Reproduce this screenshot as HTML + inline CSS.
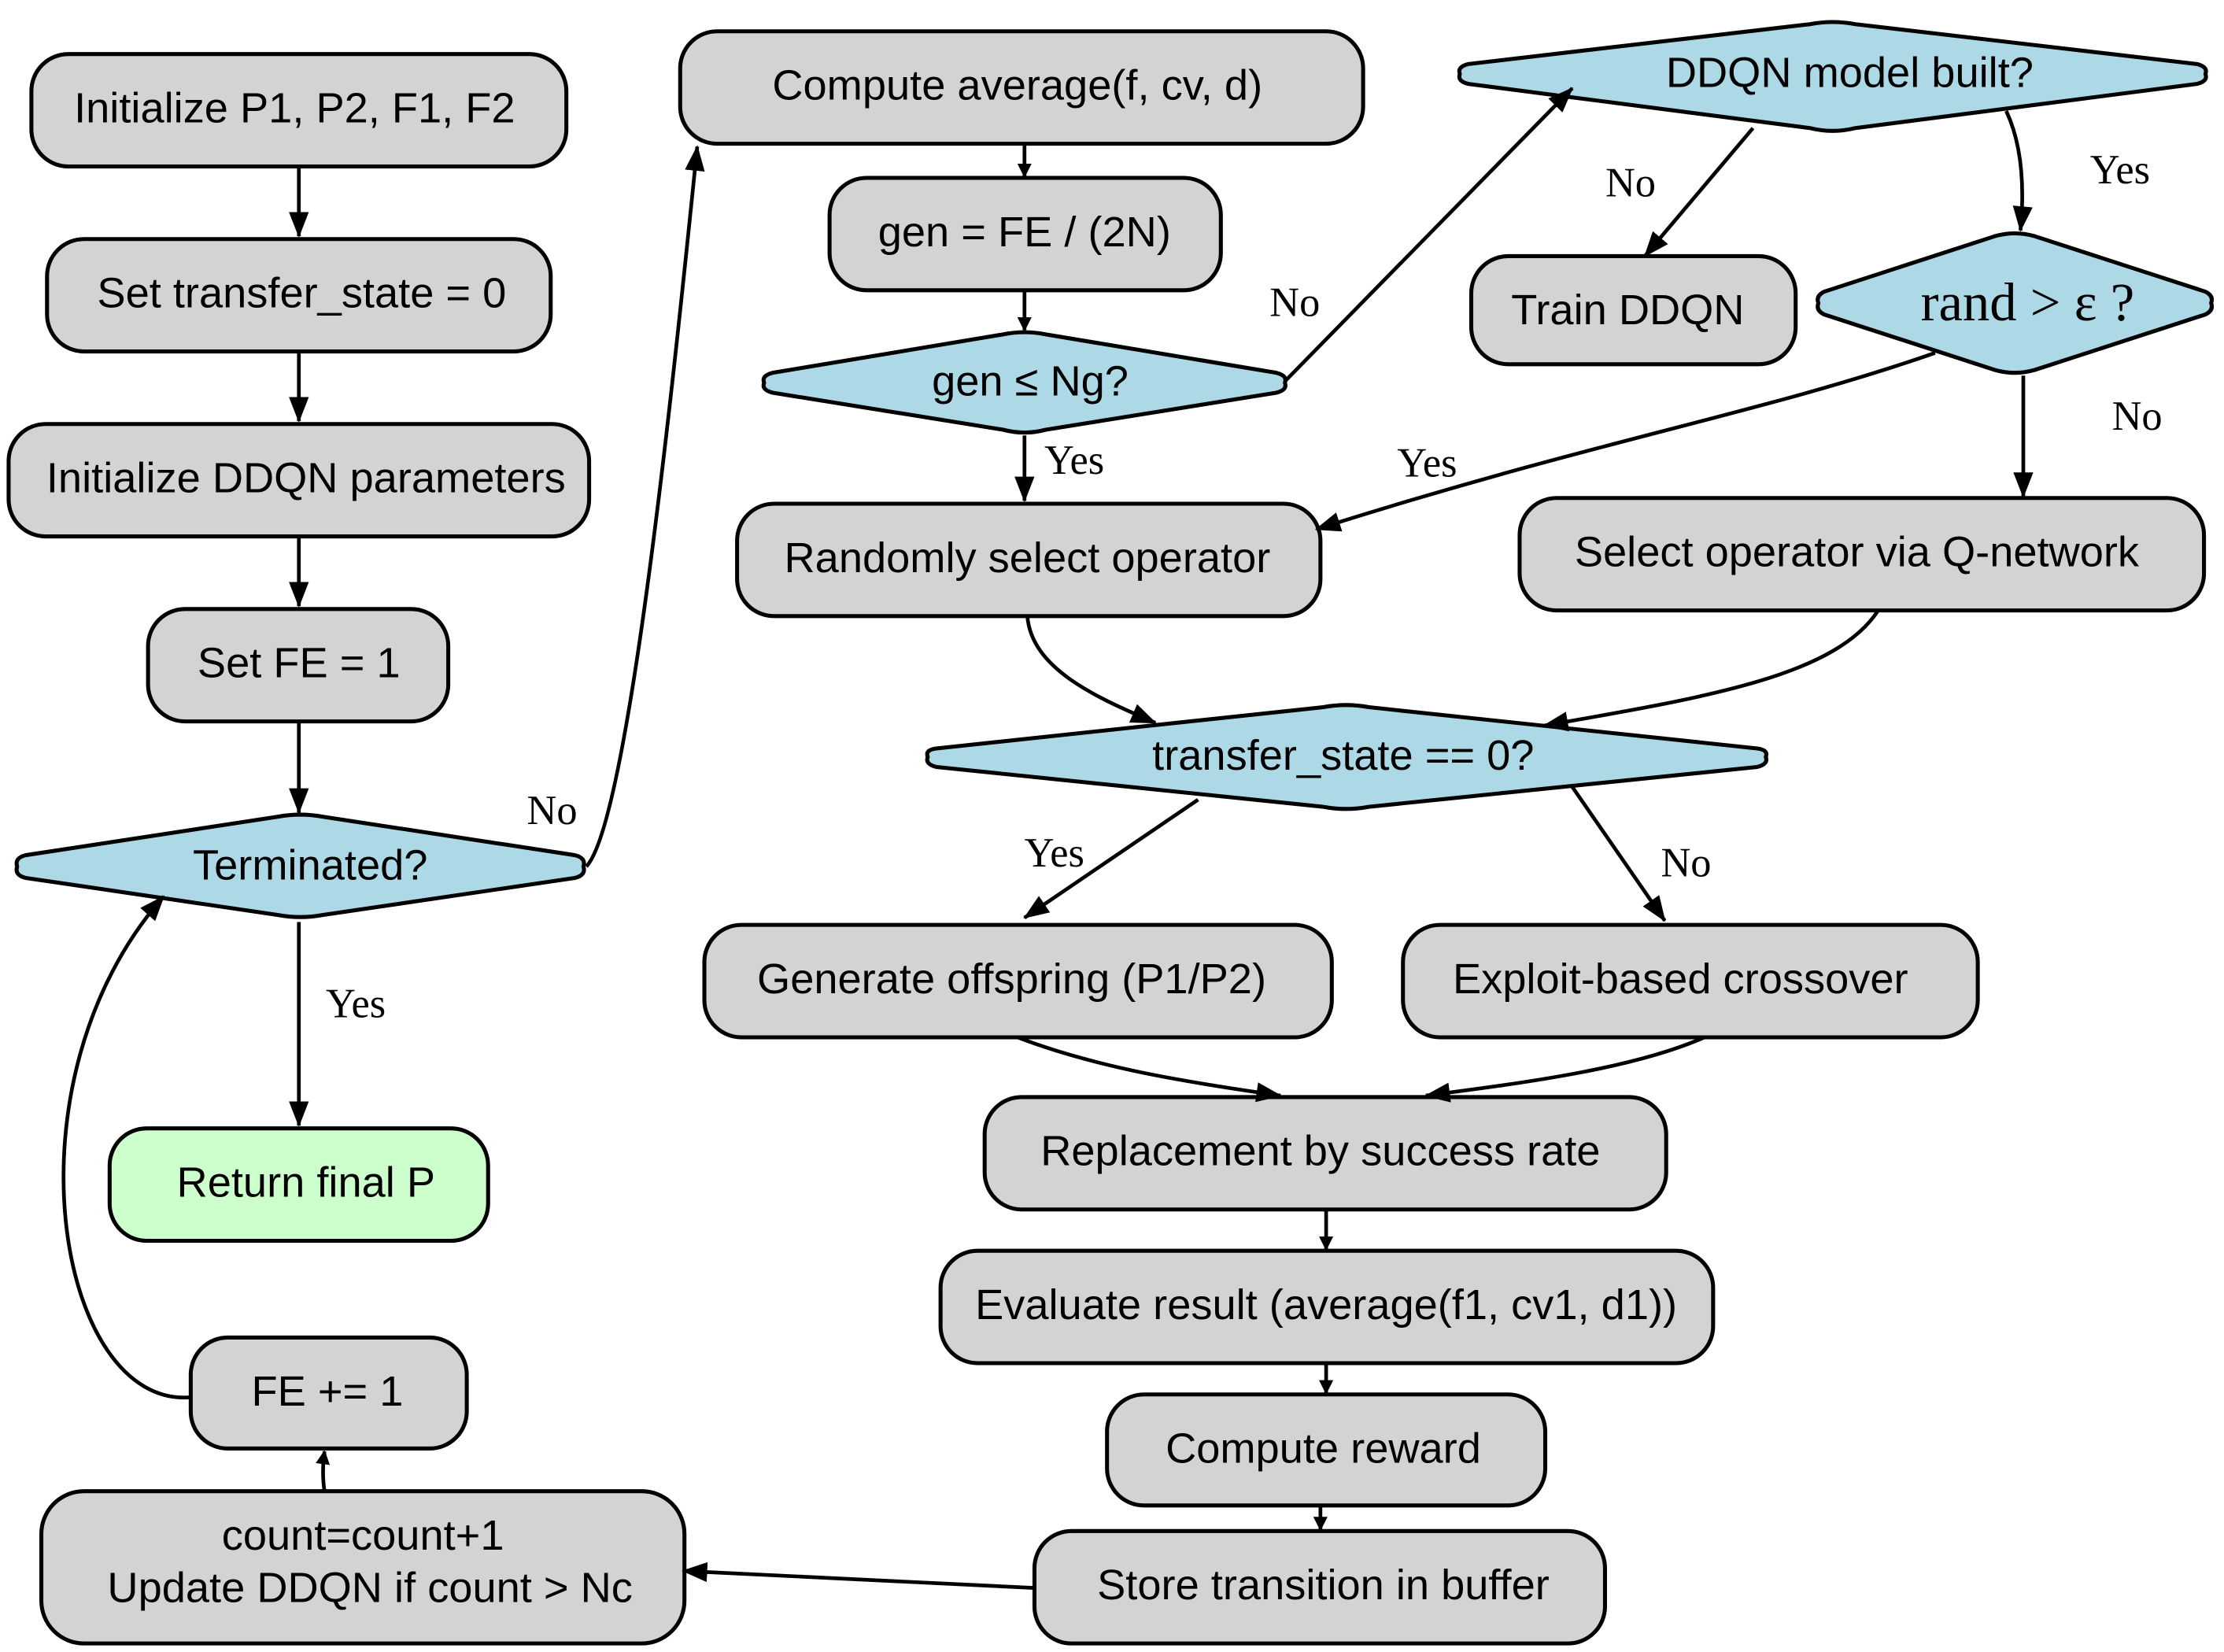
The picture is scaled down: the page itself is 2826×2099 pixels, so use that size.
<!DOCTYPE html>
<html><head><meta charset="utf-8"><style>html,body{margin:0;padding:0;background:#fff}svg{display:block}</style></head>
<body>
<svg width="2826" height="2099" viewBox="0 0 1563 1161" xmlns="http://www.w3.org/2000/svg">
<defs><marker id="a" markerWidth="10" markerHeight="10" refX="9" refY="5" orient="auto" markerUnits="userSpaceOnUse"><path d="M0,0 L10,5 L0,10 z" fill="#000"/></marker>
<marker id="b" markerWidth="18" markerHeight="14" refX="17" refY="7" orient="auto" markerUnits="userSpaceOnUse"><path d="M0,0 L18,7 L0,14 z" fill="#000"/></marker></defs>
<g stroke="#000" stroke-width="2.8" fill="#d3d3d3">
<rect x="22" y="38" width="376" height="79" rx="26"/>
<rect x="33" y="168" width="354" height="79" rx="26"/>
<rect x="6" y="298" width="408" height="79" rx="26"/>
<rect x="104" y="428" width="211" height="79" rx="26"/>
<rect x="77" y="793" width="266" height="79" rx="26" fill="#ccffcc"/>
<rect x="134" y="940" width="194" height="78" rx="26"/>
<rect x="29" y="1048" width="452" height="107" rx="30"/>
<rect x="478" y="22" width="480" height="79" rx="26"/>
<rect x="583" y="125" width="275" height="79" rx="26"/>
<rect x="1034" y="180" width="228" height="76" rx="26"/>
<rect x="518" y="354" width="410" height="79" rx="26"/>
<rect x="1068" y="350" width="481" height="79" rx="26"/>
<rect x="495" y="650" width="441" height="79" rx="26"/>
<rect x="986" y="650" width="404" height="79" rx="26"/>
<rect x="692" y="771" width="479" height="79" rx="26"/>
<rect x="661" y="879" width="543" height="79" rx="26"/>
<rect x="778" y="980" width="308" height="78" rx="26"/>
<rect x="727" y="1076" width="401" height="79" rx="26"/>
<g fill="#add8e6" stroke-linejoin="round">
<path d="M12,609 Q10,603 18,601 L195,574 Q211,571 227,574 L404,601 Q412,603 410,609 Q412,615 404,617 L227,643 Q211,646 195,643 L18,617 Q10,615 12,609 z"/>
<path d="M537,269 Q535,264 543,262 L705,235 Q720,232 735,235 L897,262 Q905,264 903,269 Q905,274 897,276 L735,302 Q720,306 705,302 L543,276 Q535,274 537,269 z"/>
<path d="M1026,52 Q1024,47 1032,45 L1272,17 Q1288,14 1304,17 L1544,45 Q1552,47 1550,52 Q1552,57 1544,59 L1304,90 Q1288,94 1272,90 L1032,59 Q1024,57 1026,52 z"/>
<path d="M1278,213 Q1276,208 1282,205 L1402,166 Q1416,162 1430,166 L1550,205 Q1556,208 1554,213 Q1556,218 1550,221 L1430,260 Q1416,264 1402,260 L1282,221 Q1276,218 1278,213 z"/>
<path d="M652,532 Q650,527 658,526 L930,497 Q946,494 962,497 L1235,526 Q1243,527 1241,532 Q1243,537 1235,539 L962,567 Q946,570 930,567 L658,539 Q650,537 652,532 z"/>
</g></g>
<g fill="none" stroke="#000" stroke-width="2.6">
<path d="M210,117 V166" marker-end="url(#b)"/>
<path d="M210,247 V296" marker-end="url(#b)"/>
<path d="M210,377 V426" marker-end="url(#b)"/>
<path d="M210,507 V571" marker-end="url(#b)"/>
<path d="M210,648 V791" marker-end="url(#b)"/>
<path d="M412,609 C440,580 470,300 490,103" marker-end="url(#b)"/>
<path d="M134,982 C40,990 0,760 115,630" marker-end="url(#b)"/>
<path d="M228,1048 Q226,1035 228,1020" marker-end="url(#a)"/>
<path d="M727,1116 L480,1104" marker-end="url(#b)"/>
<path d="M720,101 V124" marker-end="url(#a)"/>
<path d="M720,204 V232" marker-end="url(#a)"/>
<path d="M720,306 V352" marker-end="url(#b)"/>
<path d="M903,268 L1105,62" marker-end="url(#b)"/>
<path d="M1232,90 L1156,180" marker-end="url(#b)"/>
<path d="M1410,78 Q1425,110 1420,162" marker-end="url(#b)"/>
<path d="M1360,248 C1240,290 1120,310 925,372" marker-end="url(#b)"/>
<path d="M1422,264 V349" marker-end="url(#b)"/>
<path d="M722,433 C725,470 770,490 812,508" marker-end="url(#b)"/>
<path d="M1320,429 C1290,475 1200,490 1085,510" marker-end="url(#b)"/>
<path d="M842,562 L720,645" marker-end="url(#b)"/>
<path d="M1105,553 L1170,647" marker-end="url(#b)"/>
<path d="M715,729 C770,750 830,760 900,770" marker-end="url(#b)"/>
<path d="M1198,729 C1150,750 1080,760 1002,770" marker-end="url(#b)"/>
<path d="M932,850 V878" marker-end="url(#a)"/>
<path d="M932,958 V979" marker-end="url(#a)"/>
<path d="M928,1058 V1075" marker-end="url(#a)"/>
</g>
<g font-family="'Liberation Sans',sans-serif" font-size="30" text-anchor="middle" fill="#000">
<text x="207" y="86">Initialize P1, P2, F1, F2</text>
<text x="212" y="216">Set transfer_state = 0</text>
<text x="215" y="346">Initialize DDQN parameters</text>
<text x="210" y="476">Set FE = 1</text>
<text x="218" y="618">Terminated?</text>
<text x="215" y="841">Return final P</text>
<text x="230" y="988">FE += 1</text>
<text x="255" y="1089">count=count+1</text>
<text x="260" y="1126">Update DDQN if count &gt; Nc</text>
<text x="715" y="70">Compute average(f, cv, d)</text>
<text x="720" y="173">gen = FE / (2N)</text>
<text x="724" y="278">gen ≤ Ng?</text>
<text x="1300" y="61">DDQN model built?</text>
<text x="1144" y="228">Train DDQN</text>
<text x="722" y="402">Randomly select operator</text>
<text x="1305" y="398">Select operator via Q-network</text>
<text x="944" y="541">transfer_state == 0?</text>
<text x="711" y="698">Generate offspring (P1/P2)</text>
<text x="1181" y="698">Exploit-based crossover</text>
<text x="928" y="819">Replacement by success rate</text>
<text x="932" y="927">Evaluate result (average(f1, cv1, d1))</text>
<text x="930" y="1028">Compute reward</text>
<text x="930" y="1124">Store transition in buffer</text>
</g>
<g font-family="'Liberation Serif',serif" font-size="29" text-anchor="middle" fill="#000">
<text x="1425" y="225" font-size="38">rand &gt; ε ?</text>
<text x="388" y="579">No</text>
<text x="250" y="715">Yes</text>
<text x="910" y="222">No</text>
<text x="755" y="333">Yes</text>
<text x="1146" y="138">No</text>
<text x="1490" y="129">Yes</text>
<text x="1003" y="335">Yes</text>
<text x="1502" y="302">No</text>
<text x="741" y="609">Yes</text>
<text x="1185" y="616">No</text>
</g>
</svg>
</body></html>
